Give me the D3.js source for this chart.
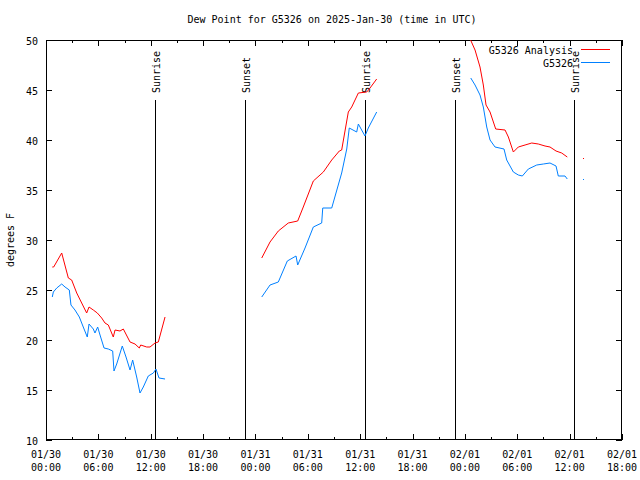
<!DOCTYPE html>
<html><head><meta charset="utf-8">
<script src="https://cdn.jsdelivr.net/npm/d3@7"></script>
<style>body{margin:0;background:#fff}svg{display:block}text{font-family:"DejaVu Sans Mono",monospace;font-size:10px;fill:#000}</style>
</head><body><svg id="c" width="640" height="480"></svg>
<script>
// hours since 2025-01-30 00:00 UTC; null marks a gap
const analysisHours = [0.72,0.88,1.80,2.56,2.94,3.52,4.66,4.93,5.42,5.88,6.38,6.76,7.14,7.71,7.91,8.48,8.86,9.63,10.20,10.69,10.85,11.54,11.92,12.49,12.87,13.64,null,
  24.72,25.67,26.62,27.76,28.84,29.48,30.63,31.78,32.74,33.61,33.88,34.64,35.03,35.79,36.75,37.13,37.89,null,
  48.55,49.16,49.73,50.11,50.42,50.88,51.53,52.60,52.98,53.55,54.12,54.89,55.66,56.41,57.18,57.75,58.44,59.09,59.73,null,61.57];
const analysisValues = [27.3,27.3,28.7,26.2,26.0,24.7,22.7,23.3,23.0,22.7,22.2,21.7,21.5,20.3,21.0,20.9,21.1,19.8,19.6,19.2,19.5,19.3,19.3,19.7,19.8,22.3,null,
  28.2,29.8,30.9,31.7,31.9,33.3,35.9,36.8,38.0,38.9,39.0,42.8,43.3,44.7,44.8,45.2,46.1,null,
  50.2,49.0,47.3,45.5,43.5,42.8,41.1,41.0,40.3,38.8,39.3,39.5,39.7,39.6,39.4,39.3,38.9,38.7,38.3,null,38.2];
const obsHours = [0.72,0.84,1.23,1.80,2.18,2.67,2.86,3.32,3.82,4.27,4.73,4.93,5.42,5.61,5.92,6.19,6.65,7.14,7.64,7.79,8.10,8.74,9.17,9.63,9.93,10.39,10.77,11.15,11.72,12.30,12.60,12.95,13.64,null,
  24.72,25.67,26.62,27.65,28.65,28.84,29.68,30.63,31.59,31.71,32.74,33.88,34.46,34.75,35.60,35.79,36.55,36.93,37.89,null,
  48.67,49.16,49.73,50.11,50.50,50.88,51.45,52.48,52.79,53.55,54.12,54.58,55.27,56.23,56.99,57.75,58.44,58.70,59.47,59.73,null,61.57];
const obsValues = [24.3,24.8,25.2,25.6,25.3,25.0,23.5,23.0,22.3,21.3,20.3,21.6,21.1,20.7,21.3,20.5,19.2,19.1,18.9,16.9,17.6,19.4,18.3,17.0,18.0,16.3,14.7,15.3,16.4,16.7,17.1,16.2,16.1,null,
  24.3,25.5,25.8,27.9,28.4,27.5,29.2,31.3,31.7,33.2,33.2,36.7,39.1,41.2,40.8,41.6,40.4,41.2,42.8,null,
  46.2,45.5,44.5,43.3,41.3,40.0,39.3,39.1,38.0,36.8,36.5,36.4,37.1,37.5,37.6,37.7,37.4,36.4,36.4,36.1,null,36.1];
const sunEventHours = [12.49,22.80,36.55,46.87,60.50];
const sunEventLabels = ["Sunrise","Sunset","Sunrise","Sunset","Sunrise"];
const yTicks = [10,15,20,25,30,35,40,45,50];
const xTickLabels = [["01/30","00:00"],["01/30","06:00"],["01/30","12:00"],["01/30","18:00"],["01/31","00:00"],["01/31","06:00"],["01/31","12:00"],["01/31","18:00"],["02/01","00:00"],["02/01","06:00"],["02/01","12:00"],["02/01","18:00"]];
const seriesNames = ["G5326 Analysis","G5326"];
const seriesColors = ["#ff0000","#0080ff"];

const t0 = Date.UTC(2025,0,30);
const toDate = h => h==null ? null : new Date(t0 + h*3600e3);
const svg = d3.select("#c");
const L=46,R=622,T=40,B=440;
const x = d3.scaleUtc().domain([toDate(0),toDate(66)]).range([L,R]);
const y = d3.scaleLinear().domain([10,50]).range([B,T]);

svg.append("defs").append("clipPath").attr("id","clip").append("rect").attr("x",L).attr("y",T).attr("width",R-L).attr("height",B-T);

// frame
svg.append("rect").attr("x",L+0.5).attr("y",T+0.5).attr("width",R-L-1).attr("height",B-T-1).attr("fill","none").attr("stroke","#000");

// y ticks
const gy = svg.append("g");
yTicks.forEach(v=>{
  const yy=Math.round(y(v))+0.5;
  gy.append("line").attr("x1",L).attr("x2",L+6).attr("y1",yy).attr("y2",yy).attr("stroke","#000");
  gy.append("line").attr("x1",R-6).attr("x2",R).attr("y1",yy).attr("y2",yy).attr("stroke","#000");
  gy.append("text").attr("x",38).attr("y",yy+4).attr("text-anchor","end").text(v);
});
// x ticks
const gx = svg.append("g");
for(let h=0; h<=66; h+=3){
  const xx=Math.round(x(toDate(h)))+0.5, len = h%6===0?6:3;
  gx.append("line").attr("x1",xx).attr("x2",xx).attr("y1",B).attr("y2",B-len).attr("stroke","#000");
  gx.append("line").attr("x1",xx).attr("x2",xx).attr("y1",T).attr("y2",T+len).attr("stroke","#000");
}
xTickLabels.forEach((lab,i)=>{
  const xx=x(toDate(i*6));
  gx.append("text").attr("x",xx).attr("y",458).attr("text-anchor","middle").text(lab[0]);
  gx.append("text").attr("x",xx).attr("y",471).attr("text-anchor","middle").text(lab[1]);
});

// sun events
sunEventHours.forEach((h,i)=>{
  const xx=Math.round(x(toDate(h)))+0.5;
  svg.append("line").attr("x1",xx).attr("x2",xx).attr("y1",100).attr("y2",B).attr("stroke","#000");
  svg.append("text").attr("transform",`translate(${xx+4},93) rotate(-90)`).attr("text-anchor","start").text(sunEventLabels[i]);
});

// series
function drawSeries(hours, values, color){
  const pts = hours.map((h,i)=>({t:toDate(h),v:values[i]}));
  const line = d3.line().defined(d=>d.t!=null && d.v!=null).x(d=>x(d.t)).y(d=>y(d.v));
  svg.append("path").attr("clip-path","url(#clip)").attr("d",line(pts)).attr("fill","none").attr("stroke",color).attr("stroke-width",1);
  // isolated points
  pts.forEach((d,i)=>{
    if(d.t==null) return;
    const prev = pts[i-1], next = pts[i+1];
    if((!prev||prev.t==null)&&(!next||next.t==null)){
      svg.append("rect").attr("x",Math.round(x(d.t))).attr("y",Math.round(y(d.v))).attr("width",1).attr("height",1).attr("fill",color);
    }
  });
}
drawSeries(analysisHours, analysisValues, seriesColors[0]);
drawSeries(obsHours, obsValues, seriesColors[1]);

// legend
seriesNames.forEach((n,i)=>{
  const yy = 49.5 + i*13;
  svg.append("text").attr("x",573).attr("y",yy+4).attr("text-anchor","end").text(n);
  svg.append("line").attr("x1",581).attr("x2",610).attr("y1",yy).attr("y2",yy).attr("stroke",seriesColors[i]);
});

// titles
svg.append("text").attr("x",332).attr("y",23).attr("text-anchor","middle").text("Dew Point for G5326 on 2025-Jan-30 (time in UTC)");
svg.append("text").attr("transform","translate(14,240) rotate(-90)").attr("text-anchor","middle").text("degrees F");
</script></body></html>
